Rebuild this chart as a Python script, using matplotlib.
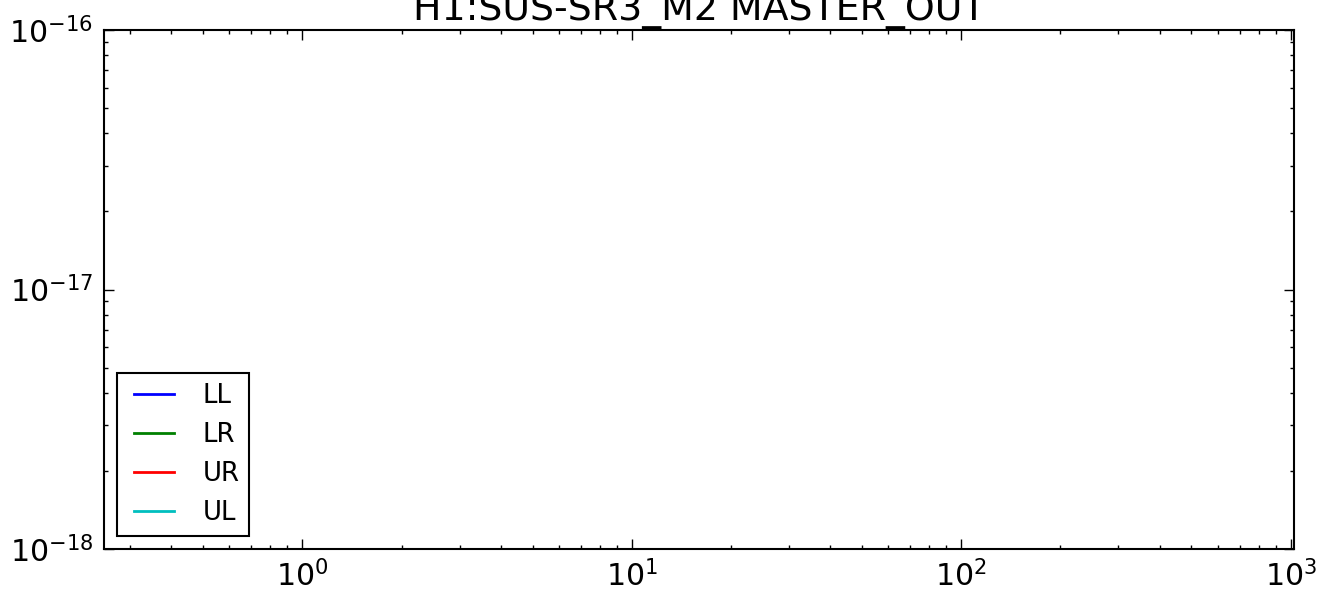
import matplotlib
matplotlib.use("Agg")
import matplotlib.pyplot as plt
from matplotlib.legend_handler import HandlerLine2D
from matplotlib.lines import Line2D

plt.rcParams["axes.unicode_minus"] = False

# the four channels are in the legend but carry no visible data
channels = ["LL", "LR", "UR", "UL"]
channel_colors = ["b", "g", "r", "c"]
freq = []
asd = {name: [] for name in channels}

title = "H1:SUS-SR3_M2 MASTER_OUT"
x_limits = (0.25, 1024)
y_limits = (1e-18, 1e-16)

fig = plt.figure(figsize=(13.19, 5.95), dpi=100, facecolor="white")
ax = fig.add_axes([104 / 1319, 1 - 549 / 595, (1294 - 104) / 1319, (549 - 30) / 595])

for name, color in zip(channels, channel_colors):
    ax.loglog(freq, asd[name], color=color, linewidth=2, label=name)

ax.set_xscale("log")
ax.set_yscale("log")
ax.set_xlim(*x_limits)
ax.set_ylim(*y_limits)

for side in ax.spines.values():
    side.set_linewidth(1.5)

ax.tick_params(which="both", direction="in", top=True, right=True, width=1.0)
ax.tick_params(which="major", length=7.2, labelsize=21.6, pad=8)
ax.tick_params(which="minor", length=3.2)

ax.set_title(title, fontsize=27.3, pad=7)

leg = ax.legend(
    loc="lower left",
    fontsize=18.7,
    fancybox=False,
    framealpha=1,
    edgecolor="black",
    handlelength=1.54 + 0.27,
    handletextpad=1.1,
    labelspacing=0.5,
    borderpad=0.38,
    borderaxespad=0.5,
    handler_map={Line2D: HandlerLine2D(xpad=0.27)},
)
leg.get_frame().set_linewidth(1.5)

fig.savefig("out.png", dpi=100, facecolor="white")
